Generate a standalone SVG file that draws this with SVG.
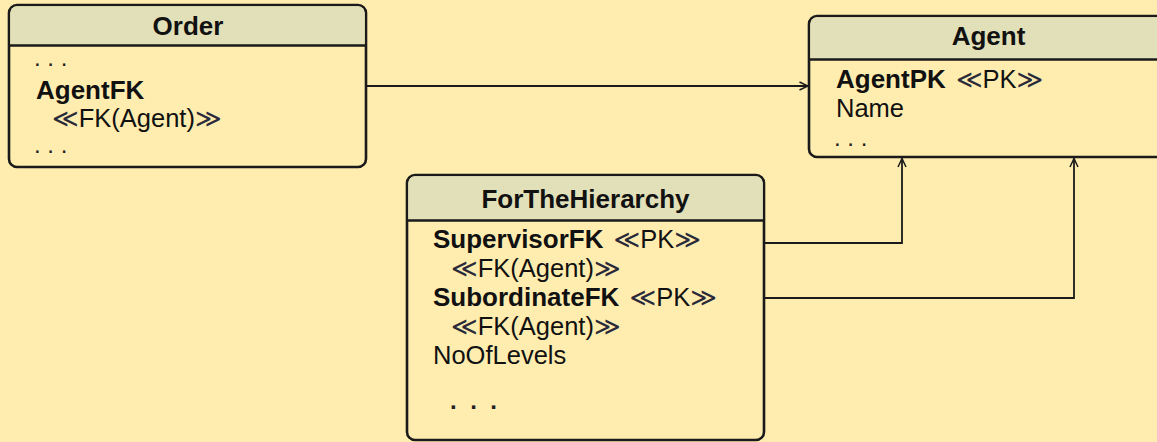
<svg xmlns="http://www.w3.org/2000/svg" width="1157" height="442" viewBox="0 0 1157 442">
  <defs>
    <style>
      .box { fill: #FFEDB0; stroke: #1a1a1a; stroke-width: 2.6; }
      .head { fill: #E2E0B8; }
      .sep { stroke: #1a1a1a; stroke-width: 2.6; }
      .title { font-family: "Liberation Sans", Arial, sans-serif; font-size: 26px; font-weight: bold; fill: #111; text-anchor: middle; }
      .attr { font-family: "Liberation Sans", Arial, sans-serif; font-size: 25.5px; fill: #111; }
      .key { font-weight: bold; font-size: 26px; }
      .st { font-family: "Liberation Sans", "DejaVu Sans", sans-serif; fill: #2a2a3a; }
      .dots { font-family: "Liberation Sans", Arial, sans-serif; font-size: 24px; fill: #222; }
      .conn { fill: none; stroke: #1a1a1a; stroke-width: 1.8; }
    </style>
    <marker id="open" viewBox="0 0 10 10" refX="9.5" refY="5" markerWidth="10" markerHeight="10" markerUnits="userSpaceOnUse" orient="auto">
      <path d="M1,1 L9.5,5 L1,9" fill="none" stroke="#1a1a1a" stroke-width="1.5"/>
    </marker>
  </defs>

  <rect width="1157" height="442" fill="#FFEDB0"/>

  <!-- Order table -->
  <g id="order">
    <rect class="box" x="9" y="5" width="357" height="162" rx="8"/>
    <path class="head" d="M17,6.3 H358 A6.7,6.7 0 0 1 364.7,13 V45 H10.3 V13 A6.7,6.7 0 0 1 17,6.3 Z"/>
    <line class="sep" x1="9" y1="45.5" x2="366" y2="45.5"/>
    <text class="title" x="188" y="35">Order</text>
    <text class="dots" x="34" y="66">. . .</text>
    <text class="attr key" x="36" y="99">AgentFK</text>
    <text class="attr" x="52" y="127"><tspan class="st">≪</tspan>FK(Agent)<tspan class="st">≫</tspan></text>
    <text class="dots" x="34" y="153">. . .</text>
  </g>

  <!-- Agent table -->
  <g id="agent">
    <rect class="box" x="809" y="16" width="359" height="141" rx="8"/>
    <path class="head" d="M817,17.3 H1168 V59 H810.3 V24 A6.7,6.7 0 0 1 817,17.3 Z"/>
    <line class="sep" x1="809" y1="59.5" x2="1168" y2="59.5"/>
    <text class="title" x="988.5" y="45">Agent</text>
    <text class="attr" x="836" y="88"><tspan class="key">AgentPK</tspan> <tspan class="st" dx="3">≪</tspan>PK<tspan class="st">≫</tspan></text>
    <text class="attr" x="836" y="117">Name</text>
    <text class="dots" x="834" y="146">. . .</text>
  </g>

  <!-- ForTheHierarchy table -->
  <g id="forthehierarchy">
    <rect class="box" x="407" y="175" width="357" height="265" rx="8"/>
    <path class="head" d="M415,176.3 H756 A6.7,6.7 0 0 1 762.7,183 V220 H408.3 V183 A6.7,6.7 0 0 1 415,176.3 Z"/>
    <line class="sep" x1="407" y1="220.5" x2="764" y2="220.5"/>
    <text class="title" x="585.5" y="208">ForTheHierarchy</text>
    <text class="attr" x="433" y="248"><tspan class="key">SupervisorFK</tspan> <tspan class="st" dx="3">≪</tspan>PK<tspan class="st">≫</tspan></text>
    <text class="attr" x="451" y="277"><tspan class="st">≪</tspan>FK(Agent)<tspan class="st">≫</tspan></text>
    <text class="attr" x="433" y="306"><tspan class="key">SubordinateFK</tspan> <tspan class="st" dx="3">≪</tspan>PK<tspan class="st">≫</tspan></text>
    <text class="attr" x="451" y="335"><tspan class="st">≪</tspan>FK(Agent)<tspan class="st">≫</tspan></text>
    <text class="attr" x="433" y="364">NoOfLevels</text>
    <text class="dots key" x="450" y="409" letter-spacing="3.4">. . .</text>
  </g>

  <!-- Foreign-key references -->
  <g id="connectors">
    <path class="conn" d="M366,86 H808" marker-end="url(#open)"/>
    <path class="conn" d="M764,243 H902 V158.5" marker-end="url(#open)"/>
    <path class="conn" d="M764,298 H1074 V158.5" marker-end="url(#open)"/>
  </g>
</svg>
